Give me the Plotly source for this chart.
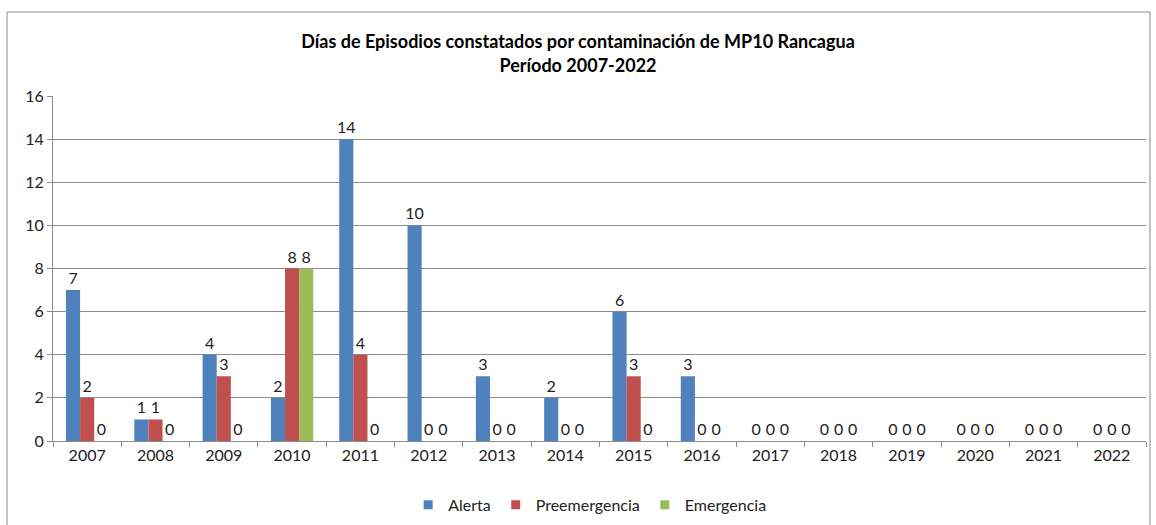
import plotly.graph_objects as go

years = [str(y) for y in range(2007, 2023)]
alerta = [7, 1, 4, 2, 14, 10, 3, 2, 6, 3, 0, 0, 0, 0, 0, 0]
preemergencia = [2, 1, 3, 8, 4, 0, 0, 0, 3, 0, 0, 0, 0, 0, 0, 0]
emergencia = [0, 0, 0, 8, 0, 0, 0, 0, 0, 0, 0, 0, 0, 0, 0, 0]

series = [("Alerta", alerta, "#4F81BD"),
          ("Preemergencia", preemergencia, "#C0504D"),
          ("Emergencia", emergencia, "#9BBB59")]

FONT = "Lato, Calibri, Carlito, sans-serif"

fig = go.Figure()
for name, vals, color in series:
    fig.add_trace(go.Bar(
        x=years, y=vals, name=name, marker_color=color, marker_line_width=0,
        text=[str(v) for v in vals], textposition="outside",
        textfont=dict(size=16, color="#222222", family=FONT),
        cliponaxis=False, constraintext="none", showlegend=False,
    ))
    fig.add_trace(go.Scatter(
        x=[None], y=[None], mode="markers", name=name,
        marker=dict(symbol="square", size=9, color=color), showlegend=True,
    ))

fig.update_layout(
    width=1156, height=525,
    paper_bgcolor="white", plot_bgcolor="white",
    margin=dict(l=53, r=10, t=96, b=84, autoexpand=False),
    barmode="group", bargap=0.38, bargroupgap=0,
    font=dict(family=FONT, size=16, color="#222222"),
    title=dict(
        text="<b>Días de Episodios constatados por contaminación de MP10 Rancagua<br>Período 2007-2022</b>",
        x=0.5, xanchor="center", y=0.908, yanchor="top",
        font=dict(size=18, family=FONT, color="#000000"),
    ),
    legend=dict(orientation="h", x=0.491, xanchor="center", yref="container",
                y=0.006, yanchor="bottom", bgcolor="rgba(0,0,0,0)",
                font=dict(size=16, family=FONT), itemwidth=30, traceorder="normal",
                tracegroupgap=0),
    showlegend=True,
    shapes=[dict(type="rect", xref="paper", yref="paper",
                 x0=-46/1093, x1=1097/1093, y0=-100/345, y1=(441-12)/345,
                 line=dict(color="#8a8a8a", width=1))],
)

fig.update_yaxes(range=[0, 16], dtick=2, showgrid=True, gridcolor="#8c8c8c", gridwidth=1,
                 showline=True, linecolor="#8c8c8c", ticks="outside", ticklen=5,
                 tickcolor="#8c8c8c", zeroline=False, tickfont=dict(size=16))
fig.update_xaxes(type="category", showline=True, linecolor="#8c8c8c", ticks="outside",
                 ticklen=5, tickcolor="#8c8c8c", tickson="boundaries", showgrid=False,
                 tickfont=dict(size=16))

fig.write_html("out.html", config={"displayModeBar": False},
               post_script="document.body.style.margin='0';")
